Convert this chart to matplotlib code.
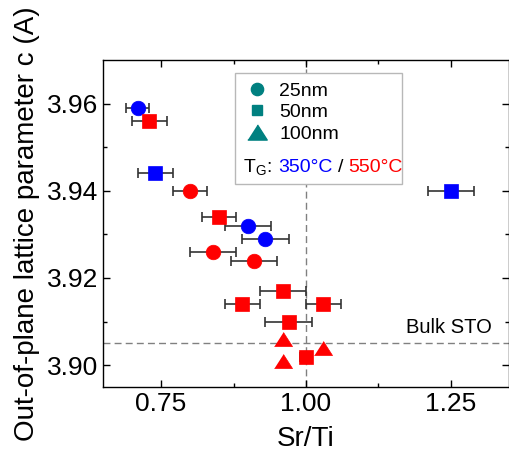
import matplotlib
matplotlib.use("Agg")
import matplotlib.pyplot as plt
from matplotlib.lines import Line2D
from matplotlib.patches import Rectangle
from matplotlib.offsetbox import TextArea, HPacker, AnchoredOffsetbox

plt.rcParams['font.family'] = ['Liberation Sans', 'DejaVu Sans']
plt.rcParams['mathtext.default'] = 'regular'

# data (Sr/Ti, c in A, x error)
blue_circle_x = [0.71, 0.90, 0.93]
blue_circle_y = [3.959, 3.932, 3.929]
blue_circle_err = [0.02, 0.04, 0.04]

blue_square_x = [0.74, 1.25]
blue_square_y = [3.944, 3.940]
blue_square_err = [0.03, 0.04]

red_circle_x = [0.80, 0.84, 0.91]
red_circle_y = [3.940, 3.926, 3.924]
red_circle_err = [0.03, 0.04, 0.04]

red_square_x = [0.73, 0.85, 0.96, 0.89, 1.03, 0.97, 1.00]
red_square_y = [3.956, 3.934, 3.917, 3.914, 3.914, 3.910, 3.902]
red_square_err = [0.03, 0.03, 0.04, 0.03, 0.03, 0.04, 0.01]

red_triangle_x = [0.96, 1.03, 0.96]
red_triangle_y = [3.906, 3.904, 3.901]

stoichiometric = 1.00
bulk_sto = 3.905

legend_labels = ['25nm', '50nm', '100nm']

BLUE = '#0000ff'
RED = '#ff0000'
TEAL = '#008080'
ERR = '#333333'
TRI = [(-1, -0.78), (1, -0.78), (0, 0.78)]

fig = plt.figure(figsize=(5.1, 4.68), dpi=100)
ax = fig.add_axes([0.202, 0.173, 0.796, 0.699])

ax.axvline(stoichiometric, color='#808080', ls=(0, (5, 3)), lw=1, zorder=1)
ax.axhline(bulk_sto, color='#808080', ls=(0, (5, 3)), lw=1, zorder=1)

groups = [
    (blue_circle_x, blue_circle_y, blue_circle_err, BLUE, 'o', 10.5),
    (blue_square_x, blue_square_y, blue_square_err, BLUE, 's', 10),
    (red_circle_x, red_circle_y, red_circle_err, RED, 'o', 10.5),
    (red_square_x, red_square_y, red_square_err, RED, 's', 10),
]
for x, y, err, col, mk, ms in groups:
    ax.errorbar(x, y, xerr=err, fmt='none', ecolor=ERR, elinewidth=1.2,
                capsize=3.5, capthick=1.2, zorder=2)
    ax.plot(x, y, ls='none', marker=mk, ms=ms, color=col, mec=col, mew=0.5, zorder=3)
ax.plot(red_triangle_x, red_triangle_y, ls='none', marker=TRI, ms=13,
        color=RED, mec=RED, mew=0.5, zorder=3)

ax.text(1.172, 3.9086, 'Bulk STO', fontsize=14.5, va='center', ha='left')

ax.set_xlim(0.65, 1.35)
ax.set_ylim(3.895, 3.97)
ax.set_xticks([0.75, 1.00, 1.25])
ax.set_xticks([0.875, 1.125], minor=True)
ax.set_yticks([3.90, 3.92, 3.94, 3.96])
ax.set_yticks([3.91, 3.93, 3.95], minor=True)
ax.tick_params(which='both', direction='in', top=True, right=True, labelsize=19)
ax.tick_params(which='major', length=5, width=1)
ax.tick_params(which='minor', length=3, width=1)
for s in ax.spines.values():
    s.set_linewidth(1)

ax.set_xlabel('Sr/Ti', fontsize=20, labelpad=7)
ax.set_ylabel('Out-of-plane lattice parameter c (A)', fontsize=20, labelpad=5)

# legend box
ax.add_patch(Rectangle((0.326, 0.621), 0.41, 0.338, transform=ax.transAxes,
                       facecolor='white', edgecolor='#b8b8b8', lw=1, zorder=4))
handles = [
    Line2D([], [], ls='none', marker='o', ms=8.8, color=TEAL),
    Line2D([], [], ls='none', marker='s', ms=7.6, color=TEAL),
    Line2D([], [], ls='none', marker=TRI, ms=14, color=TEAL),
]
leg = ax.legend(handles, legend_labels, loc='upper left', bbox_to_anchor=(0.355, 0.932),
                frameon=False, fontsize=14, handlelength=1.0, handletextpad=0.65,
                labelspacing=0.2, borderpad=0, borderaxespad=0)
leg.set_zorder(5)

parts = [TextArea('T$_{G}$:', textprops=dict(color='black', fontsize=14)),
         TextArea('350°C', textprops=dict(color=BLUE, fontsize=14)),
         TextArea('/', textprops=dict(color='black', fontsize=14)),
         TextArea('550°C', textprops=dict(color=RED, fontsize=14))]
box = HPacker(children=parts, align='baseline', pad=0, sep=4)
anch = AnchoredOffsetbox(loc='center left', child=box, pad=0, frameon=False,
                         bbox_to_anchor=(0.346, 0.674), bbox_transform=ax.transAxes,
                         borderpad=0)
anch.set_zorder(5)
ax.add_artist(anch)

fig.savefig('out.png', dpi=100)
